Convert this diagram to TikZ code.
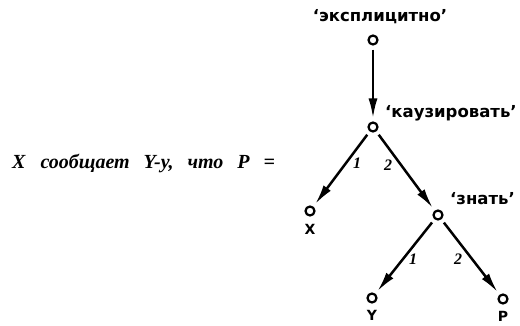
\documentclass[tikz,border=0pt]{standalone}
\usepackage{fontspec}
\setmainfont{Liberation Serif}
\newfontfamily\labfont{DejaVu Sans}
\usetikzlibrary{arrows.meta}
\tikzset{
  vtx/.style={circle,draw,line width=2.2pt,minimum size=9pt,inner sep=0pt},
  edge/.style={line width=2.5pt,shorten >=3pt,shorten <=4pt,-{Latex[length=20pt,width=9pt]}},
  sem/.style={font=\labfont\bfseries\fontsize{16.5}{18}\selectfont,inner sep=0pt},
  var/.style={font=\labfont\bfseries\fontsize{14}{16}\selectfont,inner sep=0pt},
  num/.style={font=\bfseries\itshape\fontsize{16}{18}\selectfont,inner sep=0pt},
  formula/.style={font=\bfseries\itshape\fontsize{20}{22}\selectfont,inner sep=0pt,anchor=west}
}
\begin{document}
\begin{tikzpicture}[x=1pt,y=-1pt]
\useasboundingbox (0,0) rectangle (520,325);
\node[formula] (f) at (12,163) {X\hspace{15pt}сообщает\hspace{14pt}Y-у,\hspace{14pt}что\hspace{14pt}P\hspace{14pt}=};
\node[vtx] (t) at (373,40) {};
\node[vtx] (k) at (373,127) {};
\node[vtx] (x) at (310,211) {};
\node[vtx] (z) at (438,215) {};
\node[vtx] (y) at (372,298) {};
\node[vtx] (p) at (503,299) {};
\node[sem] (tl) at (380,17) {‘эксплицитно’};
\node[sem,anchor=west] (kl) at (385,113) {‘каузировать’};
\node[sem,anchor=west] (zl) at (450,199) {‘знать’};
\node[var] (xl) at (310,229) {X};
\node[var] (yl) at (372,315) {Y};
\node[var] (pl) at (503,316) {P};
\draw[edge] (t) -- (k);
\draw[edge] (k) -- (x);
\draw[edge] (k) -- (z);
\draw[edge] (z) -- (y);
\draw[edge] (z) -- (p);
\node[num] (n1) at (357,163) {1};
\node[num] (n2) at (388,165) {2};
\node[num] (n3) at (413,259) {1};
\node[num] (n4) at (458,259) {2};
\end{tikzpicture}
\end{document}
